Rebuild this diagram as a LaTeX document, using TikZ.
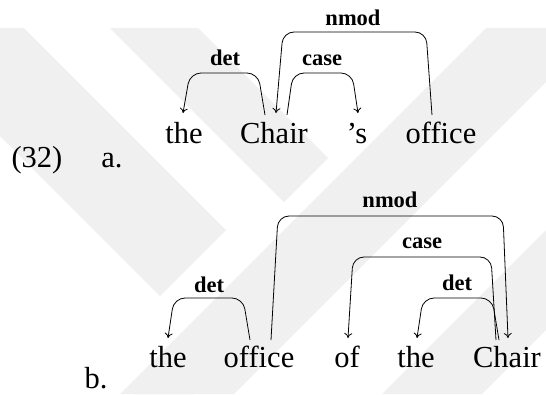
\documentclass[tikz,border=0pt]{standalone}
\usepackage{fontspec}
\setmainfont{Liberation Serif}
\usetikzlibrary{arrows.meta}
\begin{document}
\begin{tikzpicture}[x=1pt,y=-1pt,
  word/.style={anchor=base,inner sep=0pt,font=\fontsize{30.5}{36}\selectfont},
  rel/.style={anchor=base,inner sep=0pt,font=\fontsize{22.5}{27}\selectfont\bfseries},
  dep/.style={line width=0.8pt,rounded corners=11pt,-{To[length=5pt,width=8pt]}},
  wm/.style={fill=black!6,draw=none}]
\useasboundingbox (0,0) rectangle (546,394);
% faint watermark
\begin{scope}
\clip (0,28) rectangle (546,394);
\fill[wm] (486,28) -- (600,28) -- (234,394) -- (120,394) -- cycle;
\fill[wm] (330,200) -- (390,200) -- (194,394) -- (134,394) -- cycle;
\fill[wm] (-110,28) -- (24,28) -- (226,230) -- (160,296) -- (-110,26) -- cycle;
\fill[wm] (110,28) -- (198,28) -- (328,158) -- (284,202) -- cycle;
\fill[wm] (546,230) -- (546,330) -- (482,394) -- (382,394) -- cycle;
\end{scope}
% row a
\node[word] (ex) at (37,167) {(32)};
\node[word] (la) at (112,167) {a.};
\node[word] (a1) at (184,143) {the};
\node[word] (a2) at (274,143) {Chair};
\node[word] (a3) at (357,143) {’s};
\node[word] (a4) at (441,143) {office};
\coordinate (a2s1) at (265,115);
\coordinate (a2s2) at (287,115);
\coordinate (a2e) at (276,113);
\coordinate (a1e) at (183,113);
\coordinate (a3e) at (358,113);
\coordinate (a4s) at (432,115);
\draw[dep] (a2s1) -- (258,73) -- (190,73) -- (a1e);
\draw[dep] (a2s2) -- (293,73) -- (352,73) -- (a3e);
\draw[dep] (a4s) -- (426,32) -- (283,32) -- (a2e);
\node[rel] (la1) at (225,65) {det};
\node[rel] (la2) at (322,65) {case};
\node[rel] (la3) at (353,25) {nmod};
% row b
\node[word] (lb) at (96,388) {b.};
\node[word] (b1) at (168,367) {the};
\node[word] (b2) at (259,367) {office};
\node[word] (b3) at (347,367) {of};
\node[word] (b4) at (416,367) {the};
\node[word] (b5) at (507,367) {Chair};
\coordinate (b2s1) at (250,340);
\coordinate (b2s2) at (271,340);
\coordinate (b1e) at (168,338);
\coordinate (b3e) at (348,338);
\coordinate (b4e) at (417,338);
\coordinate (b5e) at (508,338);
\coordinate (b5s1) at (496,340);
\coordinate (b5s2) at (499,340);
\draw[dep] (b2s1) -- (243,298) -- (174,298) -- (b1e);
\draw[dep] (b2s2) -- (278,216) -- (503,216) -- (b5e);
\draw[dep] (b5s1) -- (491,257) -- (353,257) -- (b3e);
\draw[dep] (b5s2) -- (492,298) -- (423,298) -- (b4e);
\node[rel] (lb1) at (209,292) {det};
\node[rel] (lb2) at (390,207) {nmod};
\node[rel] (lb3) at (422,248) {case};
\node[rel] (lb4) at (457,290) {det};
\end{tikzpicture}
\end{document}
